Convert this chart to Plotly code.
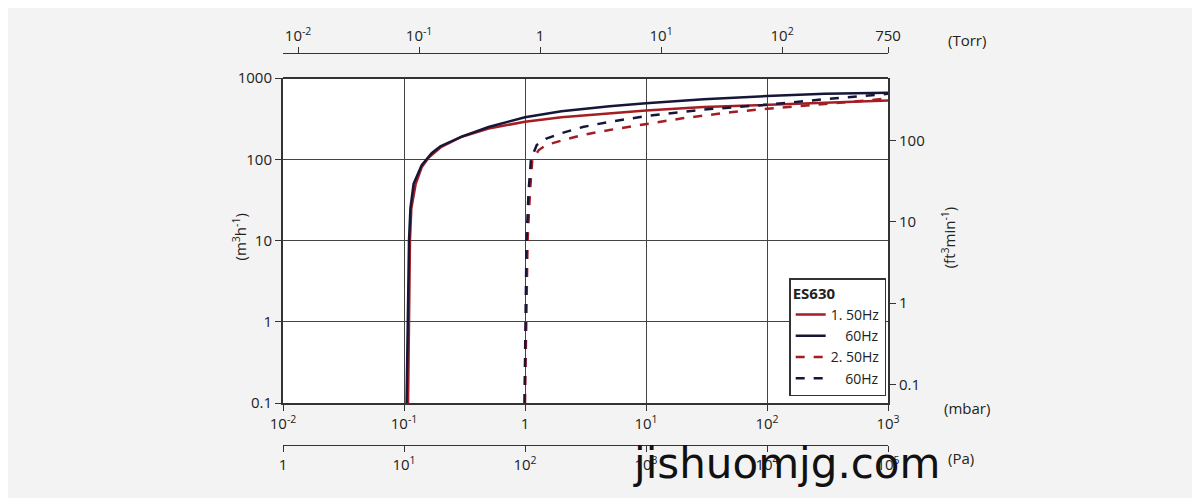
import numpy as np
import plotly.graph_objects as go

# pumping speed curves, pressure in mbar, speed in m3/h
p_50_1 = [0.108, 0.11, 0.112, 0.115, 0.125, 0.14, 0.16, 0.2, 0.3, 0.5, 1, 2, 5, 10, 30, 100, 300, 1000]
s_50_1 = [0.1, 1, 10, 25, 50, 80, 105, 140, 190, 240, 290, 330, 370, 400, 440, 470, 500, 530]
p_60_1 = [0.105, 0.107, 0.11, 0.113, 0.12, 0.14, 0.17, 0.2, 0.3, 0.5, 1, 2, 5, 10, 30, 100, 300, 1000]
s_60_1 = [0.1, 1, 10, 25, 50, 85, 120, 145, 190, 250, 330, 390, 450, 490, 550, 600, 640, 660]
p_50_2 = [1.0, 1.02, 1.05, 1.1, 1.15, 1.3, 1.5, 2, 3, 5, 10, 20, 50, 100, 300, 1000]
s_50_2 = [0.1, 1, 10, 40, 100, 130, 150, 170, 200, 230, 270, 320, 380, 420, 480, 560]
p_60_2 = [0.99, 1.01, 1.03, 1.07, 1.12, 1.25, 1.5, 2, 3, 5, 10, 30, 100, 300, 1000]
s_60_2 = [0.1, 1, 10, 40, 100, 150, 180, 210, 250, 290, 340, 410, 470, 550, 640]

mbar_ticks = [0.01, 0.1, 1, 10, 100, 1000]
mbar_text = ["10<sup>-2</sup>", "10<sup>-1</sup>", "1", "10<sup>1</sup>", "10<sup>2</sup>", "10<sup>3</sup>"]
torr_ticks = [0.01, 0.1, 1, 10, 100, 750]
torr_text = ["10<sup>-2</sup>", "10<sup>-1</sup>", "1", "10<sup>1</sup>", "10<sup>2</sup>", "750"]
pa_ticks = [1, 10, 100, 1000, 10000, 100000]
pa_text = ["1", "10<sup>1</sup>", "10<sup>2</sup>", "10<sup>3</sup>", "10<sup>4</sup>", "10<sup>5</sup>"]
m3h_ticks = [0.1, 1, 10, 100, 1000]
m3h_text = ["0.1", "1", "10", "100", "1000"]
cfm_ticks = [0.1, 1, 10, 100, 590]
cfm_text = ["0.1", "1", "10", "100", "590"]

RED = "#a51d24"
NAVY = "#161638"
M3H_TO_CFM = 0.5886
MBAR_TO_TORR = 0.750062

fig = go.Figure()
fig.add_trace(go.Scatter(x=p_50_1, y=s_50_1, mode="lines", name="1. 50Hz", line=dict(color=RED, width=2.5)))
fig.add_trace(go.Scatter(x=p_60_1, y=s_60_1, mode="lines", name="    60Hz", line=dict(color=NAVY, width=2.5)))
fig.add_trace(go.Scatter(x=p_50_2, y=s_50_2, mode="lines", name="2. 50Hz", line=dict(color=RED, width=2.5, dash="dash")))
fig.add_trace(go.Scatter(x=p_60_2, y=s_60_2, mode="lines", name="    60Hz", line=dict(color=NAVY, width=2.5, dash="dash")))
# invisible helpers to activate secondary axes
fig.add_trace(go.Scatter(x=[1], y=[1], xaxis="x2", yaxis="y", showlegend=False, hoverinfo="skip", mode="markers", marker=dict(opacity=0)))
fig.add_trace(go.Scatter(x=[1], y=[1], xaxis="x3", yaxis="y", showlegend=False, hoverinfo="skip", mode="markers", marker=dict(opacity=0)))
fig.add_trace(go.Scatter(x=[1], y=[1], xaxis="x", yaxis="y2", showlegend=False, hoverinfo="skip", mode="markers", marker=dict(opacity=0)))

xr = [-2, 3]
yr = [-1, 3]
font = dict(family="Open Sans, DejaVu Sans", size=15, color="#222")
common = dict(type="log", showline=True, linecolor="#333", ticks="outside", ticklen=6, tickcolor="#333",
              tickfont=font, automargin=False)

fig.update_layout(
    width=1200, height=498,
    paper_bgcolor="#f3f3f3", plot_bgcolor="white",
    margin=dict(l=275, r=320, t=45, b=61, autoexpand=False),
    font=font,
    xaxis=dict(**common, range=xr, tickvals=mbar_ticks, ticktext=mbar_text, anchor="y",
               showgrid=True, gridcolor="#444", gridwidth=1, mirror=False, linewidth=2),
    xaxis2=dict(**common, range=[np.log10(0.01 * MBAR_TO_TORR), np.log10(1000 * MBAR_TO_TORR)],
                tickvals=torr_ticks, ticktext=torr_text, overlaying="x", side="top",
                anchor="free", position=1.0, showgrid=False, linewidth=1),
    xaxis3=dict(**common, range=[0, 5], tickvals=pa_ticks, ticktext=pa_text, overlaying="x",
                side="bottom", anchor="free", position=0.0, showgrid=False, linewidth=1),
    yaxis=dict(**common, range=yr, tickvals=m3h_ticks, ticktext=m3h_text, domain=[0.107, 0.936],
               showgrid=True, gridcolor="#444", gridwidth=1, mirror=True, linewidth=2),
    yaxis2=dict(**common, range=[np.log10(0.1 * M3H_TO_CFM), np.log10(1000 * M3H_TO_CFM)],
                tickvals=cfm_ticks, ticktext=cfm_text, overlaying="y", side="right",
                anchor="x", showgrid=False, linewidth=2),
    legend=dict(x=0.997, y=0.125, xanchor="right", yanchor="bottom", bgcolor="white",
                bordercolor="#333", borderwidth=1.5, font=dict(size=14),
                title=dict(text="<b>ES630</b>", font=dict(size=15)), tracegroupgap=2),
    showlegend=True,
)
# frame top line
fig.add_shape(type="line", xref="x domain", yref="y domain", x0=0, x1=1, y0=1, y1=1,
              line=dict(color="#333", width=2))

ann = dict(showarrow=False, font=font, xref="paper", yref="paper")
fig.add_annotation(text="(Torr)", x=1.13, y=1.064, xanchor="center", **ann)
fig.add_annotation(text="(mbar)", x=1.13, y=0.064, xanchor="center", **ann)
fig.add_annotation(text="(Pa)", x=1.12, y=-0.064, xanchor="center", **ann)
fig.add_annotation(text="(m<sup>3</sup>h<sup>-1</sup>)", x=-0.093, y=0.53, textangle=-90, **ann)
fig.add_annotation(text="(ft<sup>3</sup>min<sup>-1</sup>)", x=1.12, y=0.53, textangle=-90, **ann)
fig.add_annotation(text="jishuomjg.com", x=1.09, y=-0.046, xanchor="right", yanchor="middle",
                   showarrow=False, xref="paper", yref="paper",
                   font=dict(family="DejaVu Sans", size=42, color="#111"))

fig.write_html("out.html")
